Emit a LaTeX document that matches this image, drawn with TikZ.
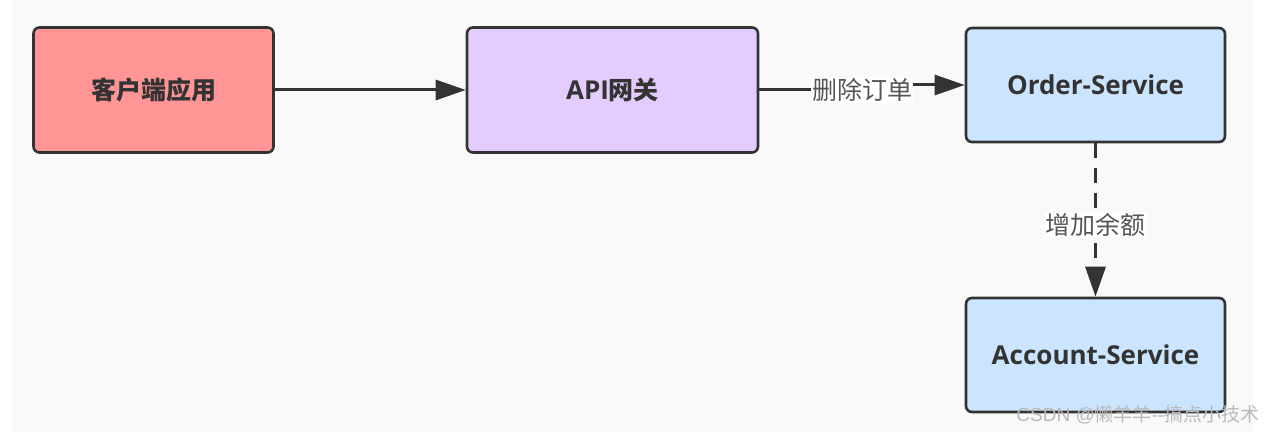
\documentclass[tikz,border=0pt]{standalone}
\usepackage{fontspec}
\setmainfont{Open Sans}
\newfontfamily\cjk{Noto Sans CJK SC}
\newfontfamily\wmfont{Liberation Sans}
\usetikzlibrary{arrows.meta}
\definecolor{bgc}{HTML}{F9F9F9}
\definecolor{linec}{HTML}{333333}
\definecolor{txtc}{HTML}{333333}
\definecolor{redc}{HTML}{FF9595}
\definecolor{purc}{HTML}{E5CCFF}
\definecolor{bluc}{HTML}{CCE5FF}
\definecolor{lblc}{HTML}{555555}
\begin{document}
\begin{tikzpicture}[x=1pt,y=-1pt,
  box/.style={draw=linec, line width=2.6pt, rounded corners=6pt, inner sep=0pt,
    font=\fontsize{26}{30}\selectfont\bfseries, text=txtc},
  cjkb/.style={font=\cjk\fontsize{25}{30}\selectfont\bfseries},
  conn/.style={draw=linec, line width=3pt, -{Triangle[length=30pt,width=20pt]}},
  lbl/.style={fill=white, inner sep=1pt, text=lblc, font=\cjk\fontsize{25}{29}\selectfont}]
\useasboundingbox (0,0) rectangle (1279,435);
\fill[bgc] (12,0) rectangle (1253,432);
\node[box, cjkb, fill=redc, minimum width=240, minimum height=125] (client) at (153.5,90) {客户端应用};
\node[box, fill=purc, minimum width=291, minimum height=125] (api) at (612.5,90) {API{\cjk\fontsize{25}{30}\selectfont 网关}};
\node[box, fill=bluc, minimum width=259, minimum height=114] (order) at (1095.5,85) {Order-Service};
\node[box, fill=bluc, minimum width=259, minimum height=114] (account) at (1095.5,355) {Account-Service};
\coordinate (j) at (862,90);
\draw[conn] (client.east) -- (api.west);
\draw[conn] (api.east) -- (j) |- (order.west);
\node[lbl] (l1) at (j) {删除订单};
\draw[conn, dash pattern=on 15pt off 10pt] (order.south) -- node[lbl, pos=0.53] (l2) {增加余额} (account.north);
\node[text=gray!55, font=\wmfont\fontsize{19}{23}\selectfont, anchor=east] (wm) at (1263,415) {CSDN @{\cjk 懒羊羊}--{\cjk 搞点小技术}};
\end{tikzpicture}
\end{document}
